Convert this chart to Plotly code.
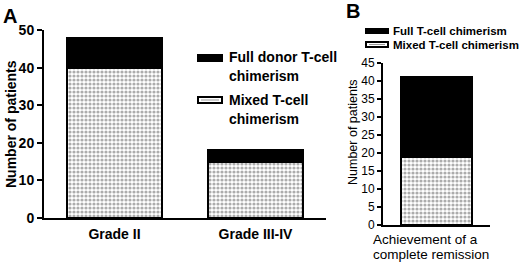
import plotly.graph_objects as go

# Panel A data
cats_a = ["Grade II", "Grade III-IV"]
mixed_a = [40, 15]
full_a = [8, 3]

# Panel B data
cats_b = ["Achievement"]
mixed_b = [19]
full_b = [22]

W, H = 520, 263
def px(x):
    return x / W
def py(y):
    return 1 - y / H

FONT = "Liberation Sans, Arial, sans-serif"
pattern = dict(shape=".", size=4, solidity=0.5, fgcolor="#5a5a5a", bgcolor="white", fillmode="overlay")

fig = go.Figure()
fig.add_trace(go.Bar(x=cats_a, y=mixed_a, xaxis="x", yaxis="y", width=0.67,
                     marker=dict(color="white", pattern=pattern, line=dict(color="black", width=2)),
                     showlegend=False))
fig.add_trace(go.Bar(x=cats_a, y=full_a, xaxis="x", yaxis="y", width=0.67,
                     marker=dict(color="black", line=dict(color="black", width=2)),
                     showlegend=False))
fig.add_trace(go.Bar(x=[0], y=mixed_b, xaxis="x2", yaxis="y2", width=1.0,
                     marker=dict(color="white", pattern=pattern, line=dict(color="black", width=2)),
                     showlegend=False))
fig.add_trace(go.Bar(x=[0], y=full_b, xaxis="x2", yaxis="y2", width=1.0,
                     marker=dict(color="black", line=dict(color="black", width=2)),
                     showlegend=False))

fig.update_layout(
    width=W, height=H, margin=dict(l=0, r=0, t=0, b=0, autoexpand=False),
    paper_bgcolor="white", plot_bgcolor="white", barmode="stack",
    font=dict(family=FONT, color="black"),
    xaxis=dict(domain=[px(44), px(326)], range=[-0.5, 1.5], anchor="y", automargin=False,
               showline=True, linecolor="black", linewidth=2, ticks="",
               showgrid=False, zeroline=False, ticklabelstandoff=2,
               tickfont=dict(size=14, weight="bold", family=FONT)),
    yaxis=dict(domain=[py(218), py(30)], range=[0, 50], anchor="x", automargin=False,
               showline=True, linecolor="black", linewidth=2,
               ticks="outside", ticklen=5, tickwidth=2, tickcolor="black",
               tickvals=[0, 10, 20, 30, 40, 50], showgrid=False, zeroline=False,
               tickfont=dict(size=14, weight="bold", family=FONT)),
    xaxis2=dict(domain=[px(383), px(490)], range=[-0.75, 0.75], anchor="y2", automargin=False,
                showline=True, linecolor="black", linewidth=2, ticks="",
                showgrid=False, zeroline=False, showticklabels=False),
    yaxis2=dict(domain=[py(225), py(63)], range=[0, 45], anchor="x2", automargin=False,
                showline=True, linecolor="black", linewidth=2,
                ticks="outside", ticklen=4, tickwidth=2, tickcolor="black",
                tickvals=list(range(0, 50, 5)), showgrid=False, zeroline=False,
                tickfont=dict(size=12, family=FONT)),
)

ann = []
def add_text(x, y, text, size, bold=False, xanchor="center", angle=0):
    ann.append(dict(x=px(x), y=py(y), xref="paper", yref="paper", text=text, showarrow=False,
                    xanchor=xanchor, yanchor="middle", textangle=angle,
                    font=dict(size=size, family=FONT, weight="bold" if bold else "normal", color="black")))

add_text(10, 16, "A", 20, True)
add_text(353, 11, "B", 20, True)
add_text(11, 124, "Number of patients", 14, True, angle=-90)
add_text(353, 132, "Number of patients", 12.5, False, angle=-90)
# legend A
add_text(227, 57, "Full donor T-cell", 14, True, "left")
add_text(227, 76, "chimerism", 14, True, "left")
add_text(227, 100, "Mixed T-cell", 14, True, "left")
add_text(227, 119, "chimerism", 14, True, "left")
# legend B
add_text(391, 31, "Full T-cell chimerism", 11.5, True, "left")
add_text(391, 45, "Mixed T-cell chimerism", 11.5, True, "left")
# x label B
add_text(371, 239, "Achievement of a", 13.5, False, "left")
add_text(371, 254, "complete remission", 13.5, False, "left")
fig.update_layout(annotations=ann)

shapes = []
def rect(x0, y0, x1, y1, fill, lw=0, lc="black"):
    shapes.append(dict(type="rect", xref="paper", yref="paper", x0=px(x0), x1=px(x1), y0=py(y1), y1=py(y0),
                       fillcolor=fill, line=dict(width=lw, color=lc)))
rect(197, 54, 223, 62, "black")
rect(198, 97, 222, 103, "white", 2)
rect(201, 99.5, 219, 100.5, "#999999")
rect(365, 28, 389, 34, "black")
rect(366, 42, 388, 47, "white", 2)
rect(369, 44, 385, 45, "#999999")
fig.update_layout(shapes=shapes)

fig.write_html("out.html", config={"displayModeBar": False},
               post_script="document.body.style.margin='0';document.body.style.overflow='hidden';")
